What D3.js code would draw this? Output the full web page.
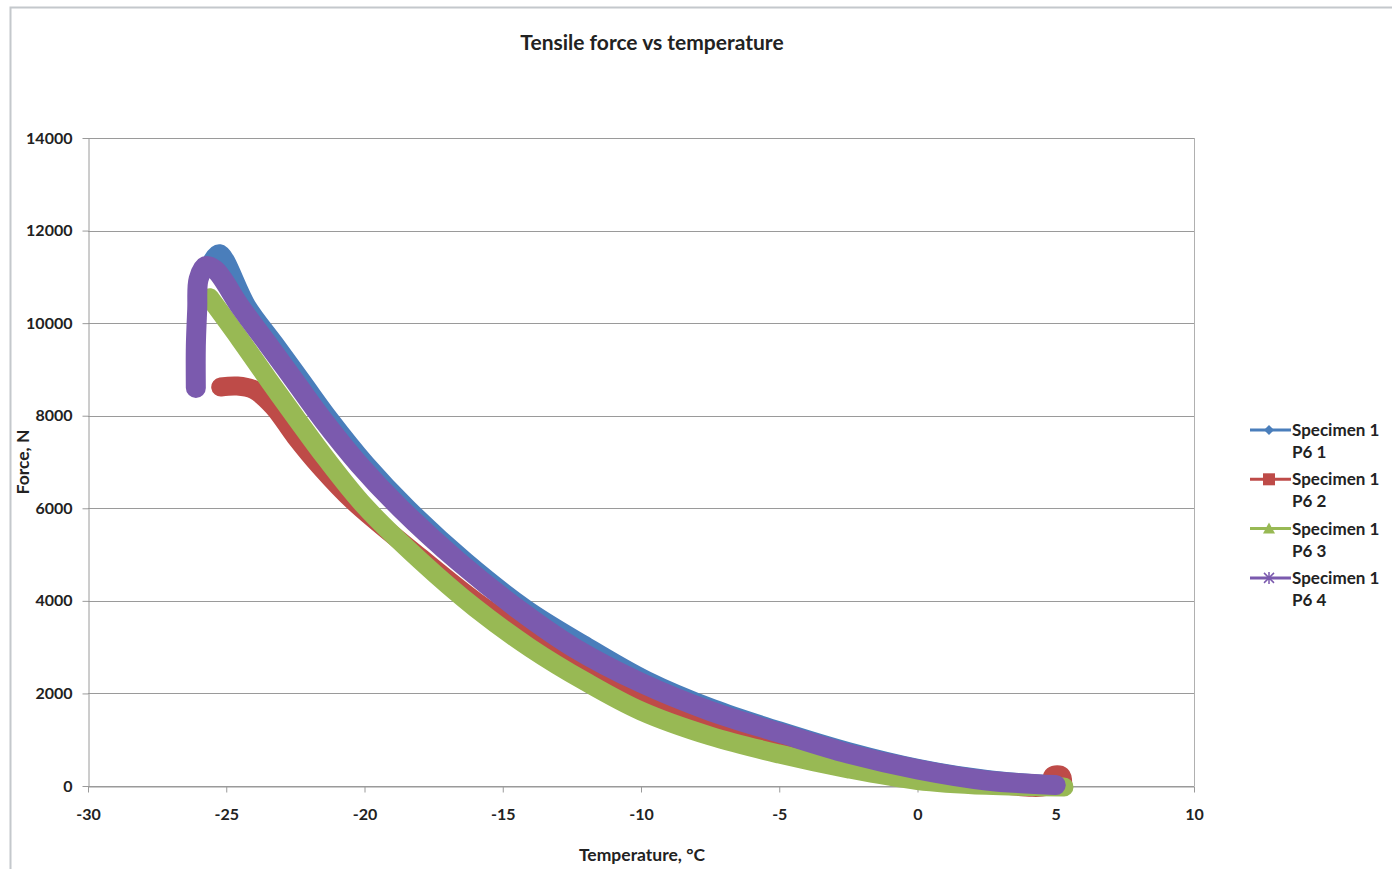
<!DOCTYPE html>
<html>
<head>
<meta charset="utf-8">
<script src="https://cdn.jsdelivr.net/npm/d3@7"></script>
<style>
  body { margin: 0; background: #fff; }
  svg { display: block; }
  text { font-family: Lato, "Open Sans", sans-serif; font-weight: bold; fill: #222; }
</style>
</head>
<body>
<svg id="chart" width="1392" height="869"></svg>
<script>
// readings (temperature in C, force in N)
const seriesNames = ["Specimen 1 P6 1", "Specimen 1 P6 2", "Specimen 1 P6 3", "Specimen 1 P6 4"];
const seriesColors = ["#4a7ebb", "#be4b48", "#98b954", "#7b5aae"];
const seriesMarkers = ["diamond", "square", "triangle", "star"];

const tempP61 = [-25.5, -25.25, -24.25, -23.25, -22.25, -21.25, -19.95, -18.45, -16.35, -14.15, -12.1, -9.8, -7.4, -5.0, -2.5, 0.0, 2.5, 5.0];
const forceP61 = [11350, 11500, 10360, 9550, 8730, 7910, 6950, 6000, 4850, 3820, 3060, 2280, 1670, 1190, 740, 380, 140, 20];

const tempP62 = [-25.2, -24.6, -24.0, -23.3, -22.5, -21.6, -20.4, -18.0, -16.0, -14.0, -12.0, -10.0, -7.5, -5.0, -2.5, 0.0, 2.5, 4.8, 4.9, 5.2, 5.25];
const forceP62 = [8620, 8640, 8560, 8200, 7550, 6900, 6150, 4950, 4000, 3200, 2480, 1860, 1300, 900, 540, 230, 60, 20, 220, 220, 0];

const tempP63 = [-25.6, -24.5, -23.5, -22.5, -21.4, -20.0, -18.0, -16.0, -14.0, -12.0, -10.0, -7.5, -5.0, -2.5, 0.0, 2.5, 5.3];
const forceP63 = [10550, 9650, 8800, 7970, 7080, 6050, 4880, 3850, 2980, 2250, 1620, 1080, 690, 370, 120, 15, -20];

const tempP64 = [-26.1, -26.1, -26.05, -26.0, -25.75, -25.4, -24.5, -23.5, -22.5, -21.5, -20.2, -18.7, -16.6, -14.4, -12.4, -10.0, -7.5, -5.0, -2.5, 0.0, 2.5, 5.0];
const forceP64 = [8600, 9500, 10300, 10950, 11230, 11150, 10360, 9550, 8730, 7910, 6950, 6000, 4850, 3800, 2980, 2230, 1620, 1150, 700, 360, 120, 20];

const xTicks = [-30, -25, -20, -15, -10, -5, 0, 5, 10];
const yTicks = [0, 2000, 4000, 6000, 8000, 10000, 12000, 14000];

const series = [
  {temp: tempP61, force: forceP61},
  {temp: tempP62, force: forceP62},
  {temp: tempP63, force: forceP63},
  {temp: tempP64, force: forceP64}
].map((s, i) => ({
  name: seriesNames[i],
  color: seriesColors[i],
  marker: seriesMarkers[i],
  values: s.temp.map((t, j) => ({t: t, f: s.force[j]}))
}));

let margin = {"left": 88, "top": 138, "right": 198, "bottom": 83};
let width = 1392;
let height = 869;

let svg = d3.select("#chart");

// outer chart border
svg.append("rect")
  .attr("x", 10.5).attr("y", 7.5)
  .attr("width", 1390).attr("height", 870)
  .attr("fill", "none")
  .attr("stroke", "#c4c8cc")
  .attr("stroke-width", 2);

let x = d3.scaleLinear()
  .domain([-30, 10])
  .range([margin.left, width - margin.right]);

let y = d3.scaleLinear()
  .domain([0, 14000])
  .range([height - margin.bottom, margin.top]);

// gridlines
svg.append("g")
  .selectAll("line")
  .data(yTicks)
  .join("line")
  .attr("x1", margin.left).attr("x2", width - margin.right)
  .attr("y1", d => Math.round(y(d)) + 0.5).attr("y2", d => Math.round(y(d)) + 0.5)
  .attr("stroke", "#9a9a9a")
  .attr("stroke-width", 1.2);

// right plot border
svg.append("line")
  .attr("x1", width - margin.right + 0.5).attr("x2", width - margin.right + 0.5)
  .attr("y1", y(14000)).attr("y2", y(0))
  .attr("stroke", "#b0b0b0");

function styleTicks(g){
  g.select(".domain").attr("stroke", "#9a9a9a");
  g.selectAll(".tick line").attr("stroke", "#9a9a9a");
  g.selectAll(".tick text")
    .attr("font-size", 16).attr("fill", "#333")
    .attr("font-family", "Lato, sans-serif").attr("font-weight", "bold");
}

// y axis
svg.append("g")
  .attr("transform", `translate(${margin.left + 0.5},0)`)
  .call(d3.axisLeft(y).tickValues(yTicks).tickFormat(d => String(d)).tickSize(6).tickPadding(10).tickSizeOuter(0))
  .call(styleTicks);

// x axis
svg.append("g")
  .attr("transform", `translate(0,${Math.round(y(0)) + 0.5})`)
  .call(d3.axisBottom(x).tickValues(xTicks).tickFormat(d => String(d)).tickSize(6).tickPadding(16).tickSizeOuter(0))
  .call(styleTicks);

// the series: dense markers form a thick band
const line = d3.line()
  .x(d => x(d.t))
  .y(d => y(d.f))
  .curve(d3.curveCatmullRom.alpha(0.5));

svg.append("g")
  .attr("fill", "none")
  .attr("stroke-linejoin", "round")
  .attr("stroke-linecap", "round")
  .selectAll("path")
  .data(series)
  .join("path")
  .attr("stroke", d => d.color)
  .attr("stroke-width", d => d.marker === "star" ? 20 : 19)
  .attr("d", d => line(d.values));

// titles
svg.append("text")
  .attr("x", 652).attr("y", 50)
  .attr("text-anchor", "middle")
  .attr("font-size", 21)
  .text("Tensile force vs temperature");

svg.append("text")
  .attr("x", 642).attr("y", 861)
  .attr("text-anchor", "middle")
  .attr("font-size", 17.5)
  .text("Temperature, °C");

svg.append("text")
  .attr("transform", "translate(29,462) rotate(-90)")
  .attr("text-anchor", "middle")
  .attr("font-size", 17.5)
  .text("Force, N");

// legend
function drawMarker(g, type, color){
  if (type === "diamond"){
    g.append("path").attr("d", "M0,-5L5,0L0,5L-5,0Z").attr("fill", color);
  } else if (type === "square"){
    g.append("rect").attr("x", -6).attr("y", -6).attr("width", 12).attr("height", 12).attr("fill", color);
  } else if (type === "triangle"){
    g.append("path").attr("d", "M0,-6L6,5L-6,5Z").attr("fill", color);
  } else {
    g.append("path").attr("d", "M-5,-5L5,5M-5,5L5,-5M0,-6L0,6")
      .attr("stroke", color).attr("stroke-width", 1.5).attr("fill", "none");
  }
}

let legend = svg.append("g").attr("class", "legend").attr("transform", "translate(1250,430)");
let items = legend.selectAll("g.item")
  .data(series)
  .join("g")
  .attr("class", "item")
  .attr("transform", (d, i) => `translate(0,${i * 49.3})`);

items.append("line")
  .attr("x1", 0).attr("x2", 41)
  .attr("stroke", d => d.color)
  .attr("stroke-width", 3);

items.each(function(d){
  drawMarker(d3.select(this).append("g").attr("transform", "translate(19,0)"), d.marker, d.color);
});

items.append("text")
  .attr("x", 42).attr("y", 6)
  .attr("font-size", 17)
  .text(d => d.name.split(" ").slice(0, 2).join(" "));

items.append("text")
  .attr("x", 42).attr("y", 28)
  .attr("font-size", 17)
  .text(d => d.name.split(" ").slice(2).join(" "));
</script>
</body>
</html>
